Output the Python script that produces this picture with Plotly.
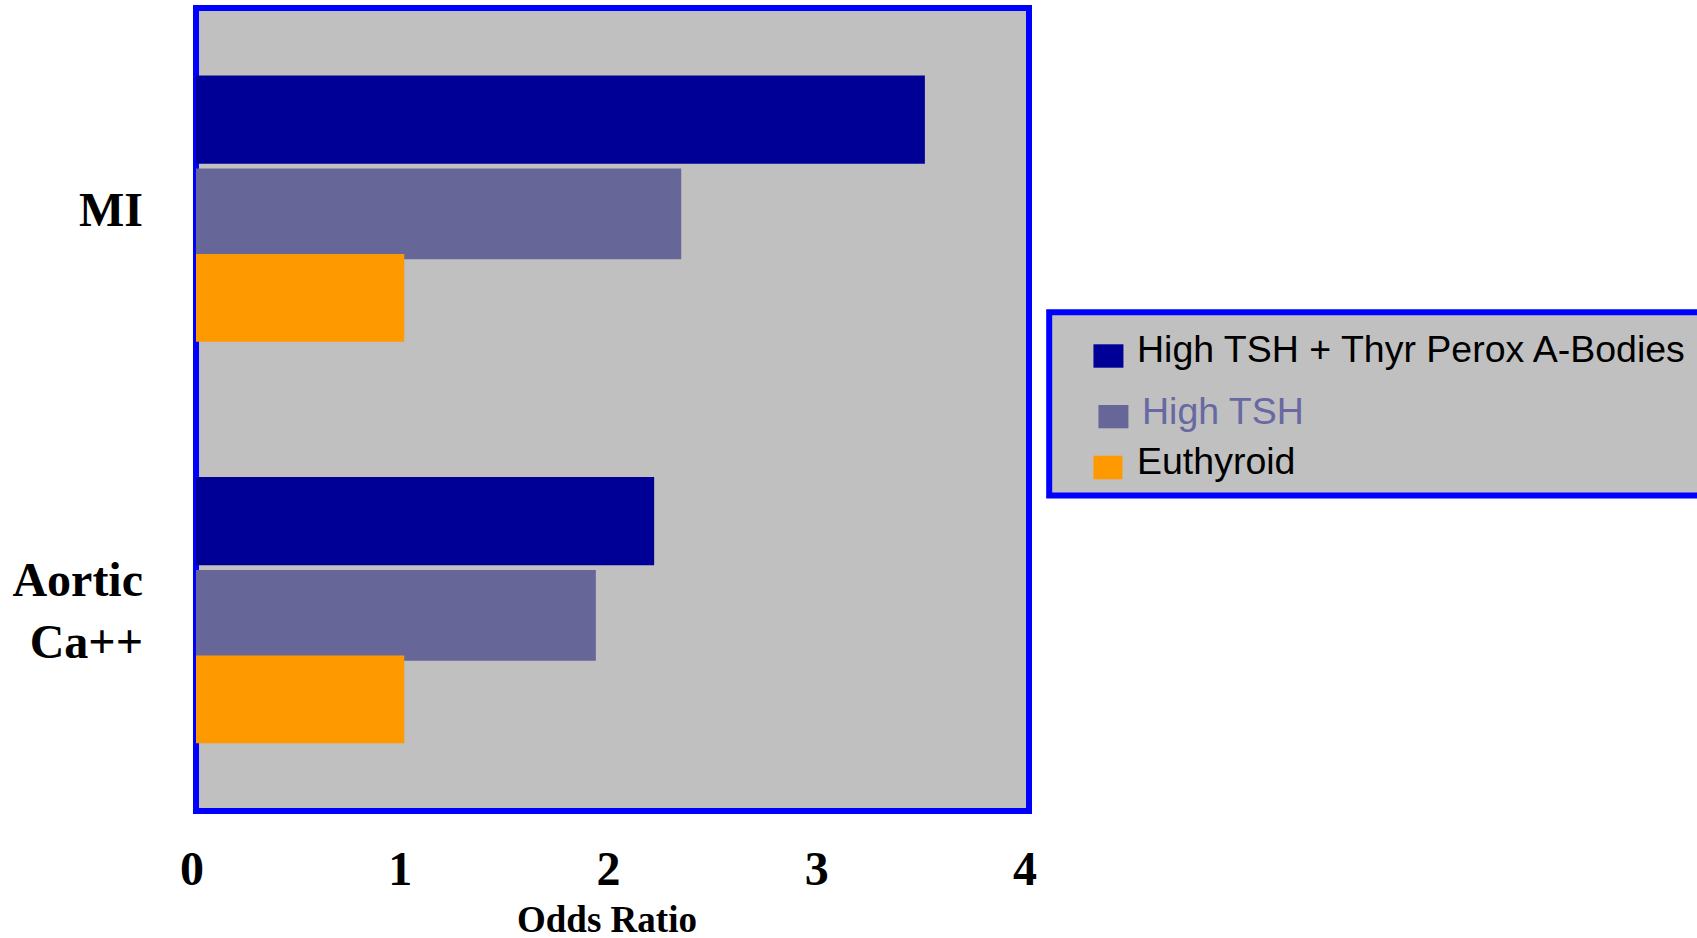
import plotly.graph_objects as go

# ---- data ----
categories = ["MI", "Aortic<br>Ca++"]
series_names = ["High TSH + Thyr Perox A-Bodies", "High TSH", "Euthyroid"]
vals_tsh_ab = [3.5, 2.2]
vals_tsh = [2.33, 1.92]
vals_euth = [1.0, 1.0]
x_ticks = [0, 1, 2, 3, 4]
axis_title = "Odds Ratio"

colors = ["#000096", "#666699", "#FF9900"]
legend_text_colors = ["#000000", "#6868A2", "#000000"]

W, H = 1697, 938
L, R = 196, 1029.5   # plot area px
T, B = 8, 811

def px(xp):
    return (xp - L) / (R - L)

def py(yp):
    return (B - yp) / (B - T)

fig = go.Figure()
offsets = [-0.332, -0.1, 0.113]
widths = [0.22, 0.226, 0.218]
for name, vals, col, off, w in zip(series_names, [vals_tsh_ab, vals_tsh, vals_euth], colors, offsets, widths):
    fig.add_trace(go.Bar(
        y=categories, x=vals, name=name, orientation="h",
        marker=dict(color=col, line=dict(width=0)),
        offset=off, width=w, showlegend=False,
    ))

serif = "Liberation Serif, Times New Roman, serif"
sans = "Liberation Sans, Arial, sans-serif"

fig.update_layout(
    width=W, height=H,
    margin=dict(l=L, r=W - R, t=T, b=H - B, pad=0, autoexpand=False),
    paper_bgcolor="white",
    plot_bgcolor="#C0C0C0",
    barmode="overlay",
    xaxis=dict(
        range=[0, 4], tickvals=x_ticks, ticktext=[str(t) for t in x_ticks],
        showgrid=False, zeroline=False, showline=False, ticks="", automargin=False,
        tickfont=dict(family=serif, size=48, color="black", weight="bold"),
        ticklabelstandoff=25, ticklabelshift=-4,
    ),
    yaxis=dict(
        categoryorder="array", categoryarray=categories, autorange="reversed",
        range=[1.5, -0.5], automargin=False,
        showgrid=False, zeroline=False, showline=False, ticks="",
        tickfont=dict(family=serif, size=48, color="black", weight="bold"),
        ticklabelstandoff=52,
    ),
)

shapes = []
# plot frame
shapes.append(dict(type="rect", xref="paper", yref="paper", x0=0, x1=1, y0=0, y1=1,
                   line=dict(color="#0000FF", width=6), fillcolor="rgba(0,0,0,0)", layer="below"))
# legend box
shapes.append(dict(type="rect", xref="paper", yref="paper",
                   x0=px(1049.7), x1=px(1720), y0=py(495.5), y1=py(312.3),
                   line=dict(color="#0000FF", width=6), fillcolor="#C0C0C0", layer="above"))
# legend squares
sq = [(1094, 1124, 344.3, 367.7), (1099, 1129, 405, 428.3), (1094, 1123, 455.7, 479.3)]
for (x0, x1, y0, y1), col in zip(sq, colors):
    shapes.append(dict(type="rect", xref="paper", yref="paper",
                       x0=px(x0), x1=px(x1), y0=py(y1), y1=py(y0),
                       line=dict(width=0), fillcolor=col, layer="above"))
fig.update_layout(shapes=shapes)

anns = []
txt_pos = [(1136, 348), (1141, 410), (1136, 460)]
for (xp, yp), name, tcol in zip(txt_pos, series_names, legend_text_colors):
    anns.append(dict(xref="paper", yref="paper", x=px(xp), y=py(yp + 1), text=name,
                     showarrow=False, xanchor="left", yanchor="middle",
                     font=dict(family=sans, size=37.5, color=tcol)))
# x-axis title
anns.append(dict(xref="paper", yref="paper", x=px(607), y=py(918.5), text=axis_title,
                 showarrow=False, xanchor="center", yanchor="middle", height=38, valign="middle",
                 font=dict(family=serif, size=37, color="black", weight="bold")))
fig.update_layout(annotations=anns)

fig.write_html("out.html", config={"displayModeBar": False},
               post_script="document.body.style.margin='0';document.body.style.padding='0';")
